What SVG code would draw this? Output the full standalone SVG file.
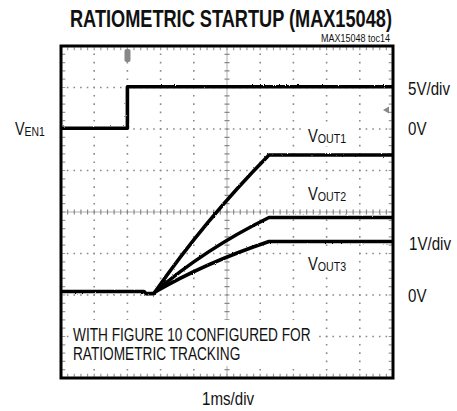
<svg xmlns="http://www.w3.org/2000/svg" width="457" height="411" viewBox="0 0 457 411">
<style>
.t{font-family:"Liberation Sans",Arial,sans-serif;fill:#111}
.lbl{font-size:18px}
.sub{font-size:13px}
.gh{stroke:#8a8a8a;stroke-width:1.6;stroke-dasharray:1.6 5.04;stroke-dashoffset:0.8;fill:none}
.gv{stroke:#8a8a8a;stroke-width:1.6;stroke-dasharray:1.6 6.7;stroke-dashoffset:0.8;fill:none}
.tr{fill:none;stroke:#000;stroke-width:3.6;stroke-linejoin:round;stroke-linecap:butt}
.bg{fill:#fff}
</style>
<defs>
<filter id="noise" x="-5%" y="-20%" width="110%" height="140%">
<feTurbulence type="fractalNoise" baseFrequency="0.9" numOctaves="1" seed="3" result="n"/>
<feDisplacementMap in="SourceGraphic" in2="n" scale="2.2" xChannelSelector="R" yChannelSelector="G"/>
</filter>
</defs>
<rect width="457" height="411" fill="#fff"/>
<g id="title">
<text class="t" transform="translate(70 27) scale(0.79 1)" font-size="23" font-weight="bold">RATIOMETRIC STARTUP (MAX15048)</text>
<text class="t" transform="translate(321 41.5) scale(0.9 1)" font-size="10">MAX15048 toc14</text>
</g>
<g id="grid">
<path class="gh" d="M61 87.5H393M61 129H393M61 170.5H393M61 253.5H393M61 295H393M61 336.5H393"/>
<path class="gv" d="M94.2 46V378M127.4 46V378M160.6 46V378M193.8 46V378M260.2 46V378M293.4 46V378M326.6 46V378M359.8 46V378"/>
<path d="M61 212H393M227 46V378" stroke="#999" stroke-width="0.8" fill="none"/>
<path d="M61 212H393" stroke="#888" stroke-width="5" stroke-dasharray="1.2 5.44" stroke-dashoffset="0.6" fill="none"/>
<path d="M227 46V378" stroke="#888" stroke-width="5" stroke-dasharray="1.2 7.1" stroke-dashoffset="0.6" fill="none"/>
<path d="M61 48.8H393M61 375.2H393" stroke="#999" stroke-width="3" stroke-dasharray="1.2 5.44" stroke-dashoffset="0.6" fill="none"/>
<path d="M63.8 46V378M390.2 46V378" stroke="#999" stroke-width="3" stroke-dasharray="1.2 7.1" stroke-dashoffset="0.6" fill="none"/>
</g>
<g id="frame">
<rect x="61" y="46" width="332" height="332" fill="none" stroke="#000" stroke-width="3"/>
</g>
<g id="markers">
<rect x="124.5" y="49" width="6" height="13" rx="2" fill="#888"/>
<path d="M383 110L389 106.5V113.5Z" fill="#888"/>
</g>
<g id="connectors" filter="url(#noise)">
<path class="tr" d="M61 128.3H127.4V86.8H393"/>
<path class="tr" d="M61 291.5H144L146 293.6H153.5L156 291"/>
<path class="tr" d="M155 292Q205 220 269 155H393"/>
<path class="tr" d="M155 292Q205 249 269 217.5H393"/>
<path class="tr" d="M155 292Q205 263 269 241.5H393"/>
</g>
<g id="labels">
<rect class="bg" x="303" y="124" width="53" height="22"/>
<rect class="bg" x="303" y="183" width="53" height="22"/>
<rect class="bg" x="303" y="250" width="53" height="24"/>
<rect class="bg" x="69" y="320" width="247" height="46"/>
<text class="t lbl" transform="translate(15 135) scale(0.8 1)">V<tspan class="sub" dy="1">EN1</tspan></text>
<text class="t lbl" transform="translate(308 141.5) scale(0.82 1)">V<tspan class="sub" dy="1">OUT1</tspan></text>
<text class="t lbl" transform="translate(308 200) scale(0.82 1)">V<tspan class="sub" dy="1">OUT2</tspan></text>
<text class="t lbl" transform="translate(308 270) scale(0.82 1)">V<tspan class="sub" dy="1">OUT3</tspan></text>
<text class="t lbl" transform="translate(408 95) scale(0.84 1)">5V/div</text>
<text class="t lbl" transform="translate(408 135) scale(0.84 1)">0V</text>
<text class="t lbl" transform="translate(409 250) scale(0.84 1)">1V/div</text>
<text class="t lbl" transform="translate(408 301.5) scale(0.84 1)">0V</text>
<text class="t lbl" transform="translate(73 340.5) scale(0.76 1)">WITH FIGURE 10 CONFIGURED FOR</text>
<text class="t lbl" transform="translate(73 360) scale(0.76 1)">RATIOMETRIC TRACKING</text>
<text class="t lbl" transform="translate(202 405) scale(0.84 1)">1ms/div</text>
</g>
</svg>
